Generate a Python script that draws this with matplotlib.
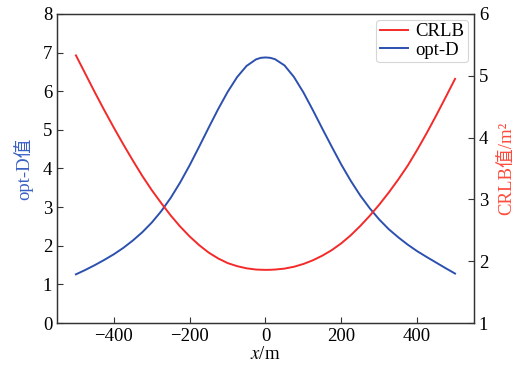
import matplotlib
matplotlib.use("Agg")
import matplotlib.pyplot as plt

plt.rcParams['font.family'] = ['Liberation Serif', 'Noto Sans CJK SC']
plt.rcParams['mathtext.fontset'] = 'stix'

x_vals = [-500, -475, -450, -425, -400, -375, -350, -325, -300, -275, -250,
          -225, -200, -175, -150, -125, -100, -75, -50, -25, -12.5, 0,
          12.5, 25, 50, 75, 100, 125, 150, 175, 200, 225, 250,
          275, 300, 325, 350, 375, 400, 425, 450, 475, 500]

optd_vals = [1.26, 1.375, 1.50, 1.635, 1.78, 1.945, 2.135, 2.35, 2.60, 2.895, 3.24,
             3.64, 4.085, 4.565, 5.055, 5.535, 5.98, 6.365, 6.655, 6.825, 6.865, 6.875,
             6.865, 6.83, 6.67, 6.37, 5.97, 5.51, 5.03, 4.56, 4.10, 3.68, 3.30,
             2.97, 2.68, 2.43, 2.22, 2.03, 1.86, 1.71, 1.565, 1.42, 1.28]

crlb_vals = [5.33, 5.03, 4.73, 4.44, 4.16, 3.89, 3.63, 3.38, 3.15, 2.94, 2.74,
             2.56, 2.40, 2.26, 2.14, 2.045, 1.97, 1.92, 1.885, 1.865, 1.862, 1.86,
             1.861, 1.865, 1.88, 1.91, 1.955, 2.015, 2.09, 2.18, 2.29, 2.42, 2.57,
             2.735, 2.915, 3.11, 3.32, 3.545, 3.80, 4.07, 4.355, 4.65, 4.95]

x_ticks = [-400, -200, 0, 200, 400]
x_ticklabels = ['\u2212400', '\u2212200', '0', '200', '400']
left_ticks = [0, 1, 2, 3, 4, 5, 6, 7, 8]
right_ticks = [1, 2, 3, 4, 5, 6]

red = '#f42a2a'
blue = '#2c50ae'

fig = plt.figure(figsize=(5.19, 3.72), dpi=100)
ax = fig.add_axes([0.1098, 0.1317, 0.8035, 0.8307])
ax2 = ax.twinx()

l_blue, = ax.plot(x_vals, optd_vals, color=blue, lw=1.4, label='opt-D')
l_red, = ax2.plot(x_vals, crlb_vals, color=red, lw=1.4, label='CRLB')

ax.set_xlim(-550, 550)
ax.set_ylim(0, 8)
ax2.set_ylim(1, 6)
ax.set_xticks(x_ticks)
ax.set_xticklabels(x_ticklabels)
ax.set_yticks(left_ticks)
ax2.set_yticks(right_ticks)

fs = 13.5
for a in (ax, ax2):
    a.tick_params(direction='in', labelsize=fs, length=4, width=0.8, color='#333333')
    for s in a.spines.values():
        s.set_color('#333333')
        s.set_linewidth(0.9)

ax.set_xlabel('$x$/m', fontsize=fs, labelpad=1)
ax.set_ylabel('opt-D值', fontsize=fs, color='#3a60c4', labelpad=7)
ax2.set_ylabel('CRLB值/m\u00b2', fontsize=fs, color='#ff4a3a', labelpad=7)

leg = ax.legend([l_red, l_blue], ['CRLB', 'opt-D'], loc='upper right',
                fontsize=fs, handlelength=1.5, handletextpad=0.4,
                borderpad=0.2, labelspacing=0.05, borderaxespad=0.3,
                frameon=True, fancybox=True)
leg.get_frame().set_edgecolor('#cccccc')
leg.get_frame().set_linewidth(0.8)

fig.savefig('out.png', dpi=100)
